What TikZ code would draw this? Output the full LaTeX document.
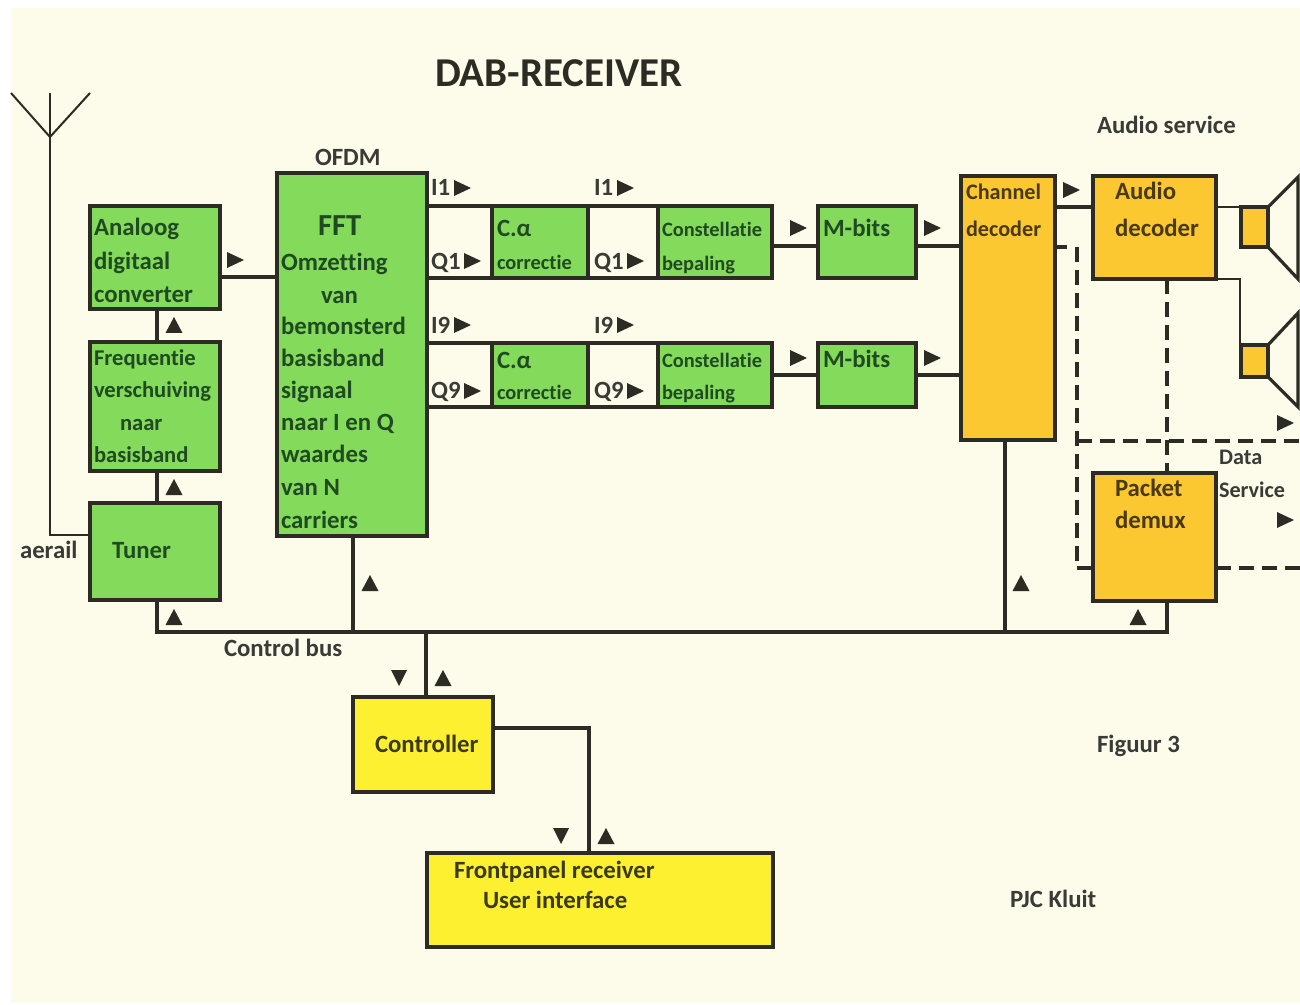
\documentclass[tikz,border=0pt]{standalone}
\usepackage{fontspec}
\setmainfont[Ligatures=NoCommon]{Carlito}
\definecolor{paper}{HTML}{FDFBE9}
\definecolor{grn}{HTML}{84DA5A}
\definecolor{org}{HTML}{FBC832}
\definecolor{yel}{HTML}{FDF030}
\definecolor{ink}{HTML}{2C2C24}
\definecolor{tgrn}{HTML}{1F4A22}
\definecolor{torg}{HTML}{4A3A12}
\definecolor{tyel}{HTML}{3A3A14}
\definecolor{tout}{HTML}{3A3A36}
\tikzset{
  x=0.5pt,y=-0.5pt,
  boxbase/.style={draw=ink,line width=2pt,rectangle,inner sep=0pt,outer sep=0pt},
  gbox/.style={boxbase,fill=grn},
  obox/.style={boxbase,fill=org},
  ybox/.style={boxbase,fill=yel},
  wire/.style={draw=ink,line width=1.6pt,line join=miter},
  thinwire/.style={draw=ink,line width=0.9pt},
  mastwire/.style={draw=ink,line width=1pt},
  dashwire/.style={draw=ink,line width=1.6pt,dash pattern=on 7.5pt off 4pt},
  lab/.style={anchor=base west,inner sep=0pt,outer sep=0pt,yshift=-0.75pt,font=\bfseries},
  lg/.style={lab,text=tgrn},
  lo/.style={lab,text=torg},
  ly/.style={lab,text=tyel},
  lt/.style={lab,text=tout},
}
\newcommand{\bx}[6]{%
  \pgfmathsetmacro{\bxw}{(#4-#2)*0.5}\pgfmathsetmacro{\bxh}{(#5-#3)*0.5}%
  \node[#6,minimum width=\bxw pt,minimum height=\bxh pt] (#1) at ({(#2+#4)/2},{(#3+#5)/2}) {};}
\newcommand{\szA}{\fontsize{12.4}{14}\selectfont}
\newcommand{\szB}{\fontsize{10.2}{12}\selectfont}
\newcommand{\szC}{\fontsize{11.3}{13}\selectfont}
\newcommand{\szD}{\fontsize{11.1}{13}\selectfont}
\newcommand{\tR}[2]{\fill[ink] (#1-8,#2-8) -- (#1+9,#2) -- (#1-8,#2+8) -- cycle;}
\newcommand{\tU}[2]{\fill[ink] (#1-8.5,#2+8) -- (#1,#2-8) -- (#1+8.5,#2+8) -- cycle;}
\newcommand{\tD}[2]{\fill[ink] (#1-8,#2-8) -- (#1,#2+8) -- (#1+8,#2-8) -- cycle;}
\begin{document}
\begin{tikzpicture}
\useasboundingbox (0,0) rectangle (1300,1005);
\fill[white] (0,0) rectangle (1300,1005);
\fill[paper] (11,8) rectangle (1300,1003);
% rail coordinates
\coordinate (busL) at (157,632);
\coordinate (busR) at (1167,632);
\coordinate (r1) at (0,246);
\coordinate (r2) at (0,375);
\coordinate (t1) at (0,206);
\coordinate (b1) at (0,278);
\coordinate (t2) at (0,343);
\coordinate (b2) at (0,407);
\coordinate (adcy) at (0,277);
\coordinate (auy) at (0,207);
\coordinate (dashtop) at (1077,247);
\coordinate (dashbot) at (1077,568);
\coordinate (dashmid) at (1077,441);
\coordinate (dashend) at (1300,441);
\coordinate (dashout) at (1300,568);
\coordinate (mast) at (50,137);
\coordinate (masttop) at (50,93);
\coordinate (armL) at (11,93);
\coordinate (armR) at (90,93);
\coordinate (tap) at (90,535);
\coordinate (ctlx) at (589,728);
\coordinate (spkfork) at (1240,279);
\coordinate (xf) at (157,0);
\coordinate (xfft) at (353,0);
\coordinate (xchan) at (1005,0);
\coordinate (xctl) at (426,0);
\coordinate (xpk) at (1167,0);
% boxes
\bx{adc}{90}{206}{220}{309}{gbox}
\bx{freq}{90}{342}{220}{471}{gbox}
\bx{tuner}{90}{503}{220}{600}{gbox}
\bx{fft}{277}{173}{427}{536}{gbox}
\bx{ca1}{492}{206}{588}{278}{gbox}
\bx{co1}{658}{206}{772}{278}{gbox}
\bx{mb1}{818}{206}{916}{278}{gbox}
\bx{ca2}{492}{343}{588}{407}{gbox}
\bx{co2}{658}{343}{772}{407}{gbox}
\bx{mb2}{818}{343}{916}{407}{gbox}
\bx{chan}{961}{176}{1055}{440}{obox}
\bx{audio}{1093}{176}{1216}{279}{obox}
\bx{spk1}{1241}{207}{1268}{247}{obox}
\bx{spk2}{1241}{345}{1268}{377}{obox}
\bx{packet}{1093}{473}{1216}{601}{obox}
\bx{ctrl}{353}{697}{493}{792}{ybox}
\bx{front}{427}{853}{773}{947}{ybox}
% connectors
\draw[mastwire] (armL) -- (mast) -- (armR);
\draw[mastwire] (masttop) -- (mast) -- (mast |- tap) -- (tap);
\draw[wire] (adc.east |- adcy) -- (fft.west |- adcy);
\draw[wire] (xf |- freq.north) -- (xf |- adc.south);
\draw[wire] (xf |- tuner.north) -- (xf |- freq.south);
\draw[wire] (xf |- tuner.south) -- (busL) -- (busR) -- (xpk |- packet.south);
\draw[wire] (xfft |- fft.south) -- (xfft |- busL);
\draw[wire] (xchan |- chan.south) -- (xchan |- busL);
\draw[wire] (xctl |- ctrl.north) -- (xctl |- busL);
\draw[wire] (ctrl.east |- ctlx) -- (ctlx) -- (ctlx |- front.north);
% I/Q rails
\draw[wire] (fft.east |- t1) -- (ca1.north west);
\draw[wire] (fft.east |- b1) -- (ca1.south west);
\draw[wire] (ca1.north east) -- (co1.north west);
\draw[wire] (ca1.south east) -- (co1.south west);
\draw[wire] (fft.east |- t2) -- (ca2.north west);
\draw[wire] (fft.east |- b2) -- (ca2.south west);
\draw[wire] (ca2.north east) -- (co2.north west);
\draw[wire] (ca2.south east) -- (co2.south west);
\draw[wire] (co1.east |- r1) -- (mb1.west |- r1);
\draw[wire] (mb1.east |- r1) -- (chan.west |- r1);
\draw[wire] (co2.east |- r2) -- (mb2.west |- r2);
\draw[wire] (mb2.east |- r2) -- (chan.west |- r2);
\draw[wire] (chan.east |- auy) -- (audio.west |- auy);
\draw[wire,line width=1.2pt] (audio.east |- auy) -- (spk1.north west);
\draw[thinwire] (audio.south east) -- (spkfork) -- (spkfork |- spk2.north);
% dashed paths
\draw[wire] (chan.east |- dashtop) -- ++(12,0);
\draw[dashwire] (dashtop) -- (dashbot);
\draw[dashwire] (dashmid) -- (dashend);
\draw[wire] (dashbot) -- (packet.west |- dashbot);
\draw[dashwire] (packet.east |- dashout) -- (dashout);
\draw[dashwire] (xpk |- audio.south) -- (xpk |- packet.north);
% speakers
\draw[wire] (spk1.north east) -- (1298,177) -- (1298,279) -- (spk1.south east);
\draw[wire] (spk2.north east) -- (1298,313) -- (1298,407) -- (spk2.south east);
% triangles
\tR{235}{260}\tU{174}{325}\tU{174}{487}\tU{174}{617}\tU{370}{583}\tU{1021}{583}\tU{1138}{617}
\tD{399}{678}\tU{443}{678}\tD{561}{836}\tU{606}{836}
\tR{462}{188}\tR{472}{261}\tR{625}{188}\tR{635}{261}
\tR{462}{325}\tR{472}{391}\tR{625}{325}\tR{635}{391}
\tR{798}{228}\tR{932}{228}\tR{798}{358}\tR{932}{358}\tR{1071}{190}\tR{1285}{423}\tR{1285}{520}
% labels
\node[lab,text=ink,font=\bfseries\fontsize{20.5}{23}\selectfont] (title) at (435,85) {DAB-RECEIVER};
\node[lt,font=\bfseries\szA] (lAudS) at (1097,132) {Audio service};
\node[lt,font=\bfseries\szA] (lOfdm) at (315,164) {OFDM};
\node[lg,font=\bfseries\szA] (a1) at (94,234) {Analoog};
\node[lg,font=\bfseries\szA] (a2) at (94,268) {digitaal};
\node[lg,font=\bfseries\szA] (a3) at (94,301) {converter};
\node[lg,font=\bfseries\fontsize{15.3}{17}\selectfont] (fa) at (318,234) {FFT};
\node[lg,font=\bfseries\szA] (f1) at (281,269) {Omzetting};
\node[lg,font=\bfseries\szA] (f2) at (321,302) {van};
\node[lg,font=\bfseries\szA] (f3) at (281,333) {bemonsterd};
\node[lg,font=\bfseries\szA] (f4) at (281,365) {basisband};
\node[lg,font=\bfseries\szA] (f5) at (281,397) {signaal};
\node[lg,font=\bfseries\szA] (f6) at (281,429) {naar I en Q};
\node[lg,font=\bfseries\szA] (f7) at (281,461) {waardes};
\node[lg,font=\bfseries\szA] (f8) at (281,494) {van N};
\node[lg,font=\bfseries\szA] (f9) at (281,527) {carriers};
\node[lg,font=\bfseries\szC] (q1) at (94,364) {Frequentie};
\node[lg,font=\bfseries\szC] (q2) at (94,396) {verschuiving};
\node[lg,font=\bfseries\szC] (q3) at (120,429) {naar};
\node[lg,font=\bfseries\szC] (q4) at (94,461) {basisband};
\node[lg,font=\bfseries\szA] (lTun) at (112,557) {Tuner};
\node[lt,font=\bfseries\szA] (lAer) at (20,557) {aerail};
\node[lt,font=\bfseries\szA] (lBus) at (224,655) {Control bus};
\node[lt,font=\bfseries\szA] (i1a) at (431,194) {I1};
\node[lt,font=\bfseries\szA] (q1a) at (431,268) {Q1};
\node[lt,font=\bfseries\szA] (i1b) at (594,194) {I1};
\node[lt,font=\bfseries\szA] (q1b) at (594,268) {Q1};
\node[lt,font=\bfseries\szA] (i9a) at (431,332) {I9};
\node[lt,font=\bfseries\szA] (q9a) at (431,397) {Q9};
\node[lt,font=\bfseries\szA] (i9b) at (594,332) {I9};
\node[lt,font=\bfseries\szA] (q9b) at (594,397) {Q9};
\node[lg,font=\bfseries\szA] (c1) at (497,235) {C.α};
\node[lg,font=\bfseries\szB] (c2) at (497,268) {correctie};
\node[lg,font=\bfseries\szA] (c3) at (497,367) {C.α};
\node[lg,font=\bfseries\szB] (c4) at (497,398) {correctie};
\node[lg,font=\bfseries\szB] (k1) at (662,235) {Constellatie};
\node[lg,font=\bfseries\szB] (k2) at (662,269) {bepaling};
\node[lg,font=\bfseries\szB] (k3) at (662,366) {Constellatie};
\node[lg,font=\bfseries\szB] (k4) at (662,398) {bepaling};
\node[lg,font=\bfseries\szA] (m1) at (823,235) {M-bits};
\node[lg,font=\bfseries\szA] (m2) at (823,366) {M-bits};
\node[lo,font=\bfseries\szD] (h1) at (966,198) {Channel};
\node[lo,font=\bfseries\szD] (h2) at (966,235) {decoder};
\node[lo,font=\bfseries\szA] (u1) at (1115,198) {Audio};
\node[lo,font=\bfseries\szA] (u2) at (1115,235) {decoder};
\node[lt,font=\bfseries\szD] (d1) at (1219,463) {Data};
\node[lt,font=\bfseries\szD] (d2) at (1219,496) {Service};
\node[lo,font=\bfseries\szA] (p1) at (1115,495) {Packet};
\node[lo,font=\bfseries\szA] (p2) at (1115,527) {demux};
\node[ly,font=\bfseries\szA] (lCtl) at (375,751) {Controller};
\node[ly,font=\bfseries\szA] (lF1) at (454,877) {Frontpanel receiver};
\node[ly,font=\bfseries\szA] (lF2) at (483,907) {User interface};
\node[lt,font=\bfseries\szA] (lFig) at (1097,751) {Figuur 3};
\node[lt,font=\bfseries\szA] (lPjc) at (1010,906) {PJC Kluit};
\end{tikzpicture}
\end{document}
